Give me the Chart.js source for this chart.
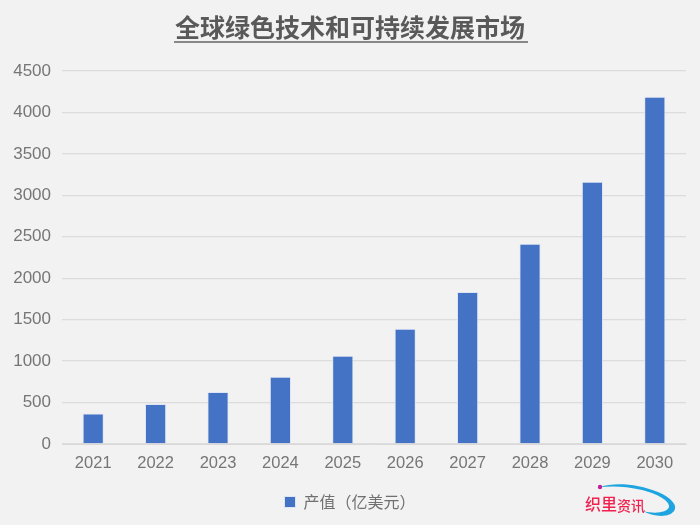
<!DOCTYPE html>
<html>
<head>
<meta charset="utf-8">
<script src="https://cdn.jsdelivr.net/npm/chart.js@4"></script>
<style>
    html, body { margin: 0; padding: 0; background: #f2f2f2; }
    #wrap { position: relative; width: 700px; height: 525px; overflow: hidden; }
    #logo { position: absolute; left: 580px; top: 480px; width: 100px; height: 42px; }
</style>
</head>
<body>
<div id="wrap">
    <canvas id="marketChart" width="700" height="525"></canvas>
    <svg id="logo" viewBox="0 0 100 42">
        <path d="M 20 7 C 35 2, 58 4, 78 12 C 92 18, 98 26, 94 31 C 90 37, 76 38, 63 31 C 74 34, 87 33, 89 27 C 90 21, 78 14, 62 10 C 46 6, 32 6, 20 7 Z" fill="#1ea5e0"/>
        <circle cx="20" cy="7" r="2.2" fill="#c0209a"/>
        <text x="5" y="30" font-family="Noto Sans CJK SC" font-size="16" font-weight="500" fill="#f2204e">织里</text>
        <text x="37" y="31" font-family="Noto Sans CJK SC" font-size="14" font-weight="500" fill="#f2204e">资讯</text>
    </svg>
</div>
<script>
const chartTitle = '全球绿色技术和可持续发展市场';
const seriesLabel = '产值（亿美元）';
const years = ['2021', '2022', '2023', '2024', '2025', '2026', '2027', '2028', '2029', '2030'];
const outputValues = [368, 484, 628, 810, 1065, 1390, 1835, 2415, 3165, 4190];
const yTicks = [0, 500, 1000, 1500, 2000, 2500, 3000, 3500, 4000, 4500];

const cjkFont = '"Noto Sans CJK SC", "Noto Sans", sans-serif';
const tickFont = '"Liberation Sans", sans-serif';

// the reference has a rule under the title
const titleUnderline = {
    id: 'titleUnderline',
    afterDraw(chart) {
        const ctx = chart.ctx;
        ctx.save();
        ctx.strokeStyle = '#666666';
        ctx.lineWidth = 1.3;
        ctx.beginPath();
        ctx.moveTo(174, 42);
        ctx.lineTo(528, 42);
        ctx.stroke();
        ctx.restore();
    }
};

new Chart(document.getElementById('marketChart').getContext('2d'), {
    type: 'bar',
    data: {
        labels: years,
        datasets: [{
            label: seriesLabel,
            data: outputValues,
            backgroundColor: '#4472c4',
            borderColor: '#dfe6f3',
            borderWidth: 1,
            categoryPercentage: 1,
            barPercentage: 0.34
        }]
    },
    options: {
        responsive: false,
        animation: false,
        layout: { padding: { left: 0, right: 0, top: 0, bottom: 5 } },
        plugins: {
            title: {
                display: true,
                text: chartTitle,
                color: '#595959',
                font: { family: cjkFont, size: 25, weight: '700' },
                padding: { top: 12, bottom: 29 }
            },
            legend: {
                position: 'bottom',
                labels: {
                    color: '#707070',
                    boxWidth: 11,
                    boxHeight: 11,
                    font: { family: cjkFont, size: 16 },
                    padding: 8
                }
            },
            tooltip: { enabled: false }
        },
        scales: {
            x: {
                afterFit(axis) { axis.height = 42; },
                grid: { display: false },
                border: { color: '#d9d9d9', width: 1 },
                ticks: {
                    color: '#767676',
                    padding: 2,
                    maxRotation: 0,
                    font: { family: tickFont, size: 16.5 }
                }
            },
            y: {
                min: 0,
                max: 4500,
                afterFit(axis) { axis.width = 62; },
                afterBuildTicks(axis) { axis.ticks = yTicks.map(v => ({ value: v })); },
                grid: { color: '#dcdcdc', lineWidth: 1.3, drawTicks: false },
                border: { display: false },
                ticks: {
                    color: '#767676',
                    padding: 11,
                    callback: (value) => String(value),
                    font: { family: tickFont, size: 17 }
                }
            },
            // empty axis, keeps the right margin without moving title and legend off centre
            rightMargin: {
                type: 'linear',
                position: 'right',
                afterFit(axis) { axis.width = 14; },
                grid: { display: false },
                border: { display: false },
                ticks: { display: false }
            }
        }
    },
    plugins: [titleUnderline]
});
</script>
</body>
</html>
